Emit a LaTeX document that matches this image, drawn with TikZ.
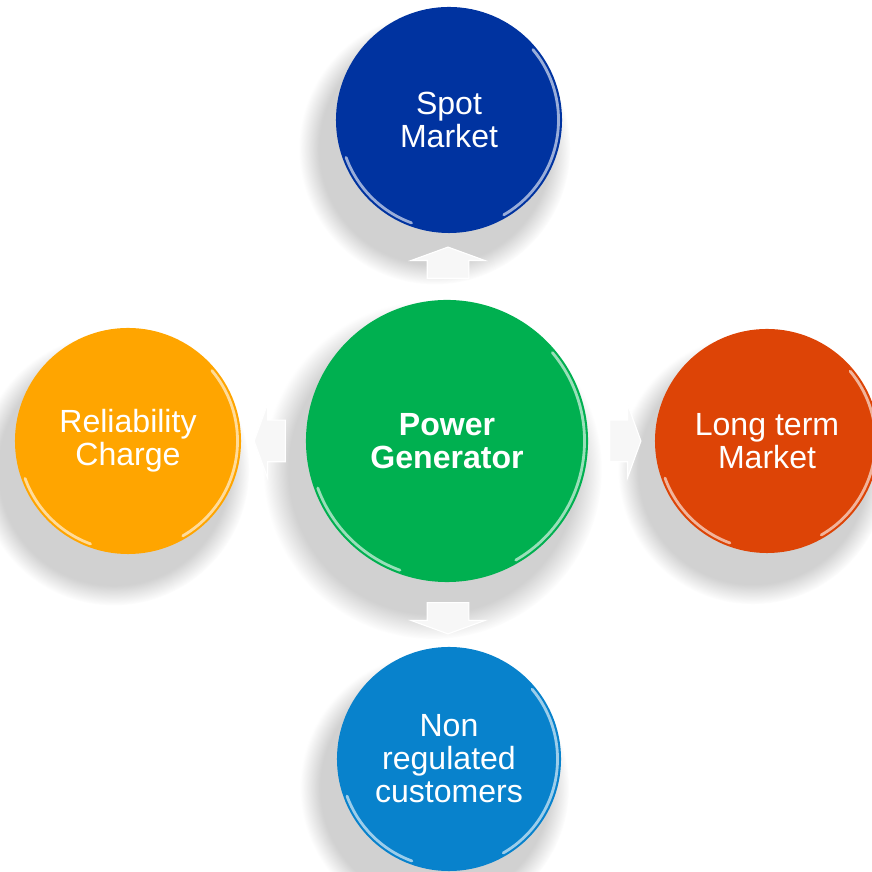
\documentclass[tikz,border=0pt]{standalone}
\usepackage{fontspec}
\setmainfont{Liberation Sans}
\usetikzlibrary{calc}
\usetikzlibrary{shapes.arrows, shadows, fadings}
\definecolor{spotblue}{RGB}{0,51,160}
\definecolor{gengreen}{RGB}{0,176,80}
\definecolor{relorange}{RGB}{255,165,0}
\definecolor{longred}{RGB}{221,68,6}
\definecolor{nonblue}{RGB}{8,130,204}
\tikzset{
	bubble/.style = {circle, outer sep=0pt, inner sep=0pt, align=center, text=white,
		font=\fontsize{22.8pt}{23.5pt}\selectfont,
		circular drop shadow={shadow xshift=-.3cm, shadow yshift=-.6cm, shadow scale=1.2, opacity=.36}},
	rimlight/.style = {white, opacity=.6, line width=2pt, line cap=round},
	blockarrow/.style = {single arrow, fill=gray!6, draw=white, line width=.8pt, inner xsep=0pt, inner ysep=.5cm,
		minimum height=.78cm, minimum width=1.85cm, single arrow head extend=.4cm, single arrow tip angle=140}
}
\newcommand{\rim}[1]{
	\draw [rimlight] let \p1 = ($(#1.east)-(#1.center)$), \n1 = {\x1-2.5pt} in
		($(#1.center)+(-60:\n1)$) arc [start angle=-60, end angle=40, radius=\n1]
		($(#1.center)+(200:\n1)$) arc [start angle=200, end angle=250, radius=\n1];
}

\begin{document}
\begin{tikzpicture}[x=.025cm, y=.025cm]
\useasboundingbox (0,0) rectangle (872,872);
\node [bubble, fill=gengreen, minimum size=7.05cm, font=\fontsize{22.8pt}{23.5pt}\selectfont\bfseries] (gen) at (447,431) {Power\\Generator};
\node [bubble, fill=spotblue, minimum size=5.65cm] (spot) at (449,752) {Spot\\Market};
\node [bubble, fill=relorange, minimum size=5.65cm] (rel) at (128,431) {Reliability\\Charge};
\node [bubble, fill=longred, minimum size=5.6cm] (long) at (767,431) {Long term\\Market};
\node [bubble, fill=nonblue, minimum size=5.6cm] (nonreg) at (449,113) {Non\\regulated\\customers};
\foreach \b in {gen, spot, rel, long, nonreg}{
	\rim{\b}
}
\node [blockarrow, rotate=90] (toSpot) at ($(gen.north)!.5!(spot.south)$) {};
\node [blockarrow, rotate=180] (toRel) at ($(gen.west)!.5!(rel.east)$) {};
\node [blockarrow] (toLong) at ($(gen.east)!.5!(long.west)$) {};
\node [blockarrow, rotate=270] (toNonreg) at ($(gen.south)!.5!(nonreg.north)$) {};
\end{tikzpicture}
\end{document}
